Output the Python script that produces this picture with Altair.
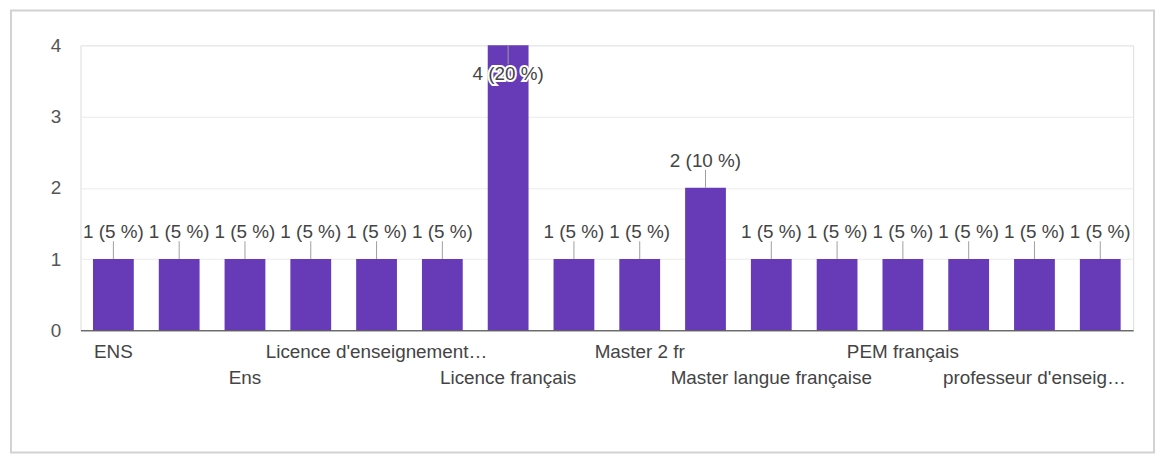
import json
import altair as alt
import pandas as pd

# ---- data ----
counts = [1, 1, 1, 1, 1, 1, 4, 1, 1, 2, 1, 1, 1, 1, 1, 1]
axis_labels = ["ENS", "", "Ens", "", "Licence d'enseignement…", "",
               "Licence français", "", "Master 2 fr", "",
               "Master langue française", "", "PEM français", "",
               "professeur d'enseig…", ""]
label_rows = [1, 0, 2, 0, 1, 0, 2, 0, 1, 0, 2, 0, 1, 0, 2, 0]
y_grid_values = [0, 0.5, 1, 1.5, 2, 2.5, 3, 3.5, 4]
y_max = 4

total = sum(counts)
df = pd.DataFrame({
    "idx": list(range(len(counts))),
    "count": counts,
    "label": [f"{c} ({round(100 * c / total)} %)" for c in counts],
})

lines = []
for lab, row in zip(axis_labels, label_rows):
    if row == 1:
        lines.append([lab])
    elif row == 2:
        lines.append(["", lab])
    else:
        lines.append([""])
label_expr = json.dumps(lines, ensure_ascii=False) + "[datum.value]"

W, H = 1060, 287
FONT = "Liberation Sans"
FS = 19
TXT = "#444444"
PURPLE = "#673ab7"

x_enc = alt.X("idx:O", sort="ascending",
              scale=alt.Scale(paddingInner=0.38, paddingOuter=0.19),
              axis=alt.Axis(title=None, labelExpr=label_expr, labelAngle=0,
                            ticks=False, grid=False, domainColor="#333333",
                            domainWidth=1, labelFont=FONT, labelFontSize=FS,
                            labelColor=TXT, labelPadding=12, labelLineHeight=27,
                            labelBaseline="top", labelOverlap=False,
                            labelLimit=1000,
                            labelBound=False, labelFlush=False, zindex=1))
y_scale = alt.Scale(domain=[0, y_max], nice=False)
y_enc = alt.Y("count:Q", scale=y_scale,
              axis=alt.Axis(title=None, values=y_grid_values,
                            labelExpr="datum.value % 1 == 0 ? format(datum.value, 'd') : ''",
                            ticks=False, domain=False, gridColor="#ebebeb",
                            labelFont=FONT, labelFontSize=FS, labelColor="#555555",
                            labelPadding=20))

frame_df = pd.DataFrame({"k": [0]})
frame = alt.Chart(frame_df).mark_rect(
    fillOpacity=0, stroke="#d2d2d2", strokeWidth=2
).encode(x=alt.value(-70), x2=alt.value(W + 21),
         y=alt.value(-35), y2=alt.value(H + 123))

bars = alt.Chart(df).mark_bar(color=PURPLE).encode(x=x_enc, y=y_enc)

base = alt.Chart(df).transform_joinaggregate(
    mx="max(count)"
).transform_calculate(
    top="datum.count >= datum.mx ? 1 : 0",
    tip="datum.count >= datum.mx ? datum.count - 0.265 : datum.count + 0.25",
)

leaders = base.mark_rule(color="#9e9e9e", strokeWidth=1).encode(
    x=alt.X("idx:O", sort="ascending"),
    y=alt.Y("count:Q", scale=y_scale),
    y2="tip:Q",
)

def label_layer(sel, dy, halo):
    kw = dict(font=FONT, fontSize=FS, baseline="middle", align="center", dy=dy)
    if halo:
        kw.update(fill="white", stroke="white", strokeWidth=4)
    else:
        kw.update(color=TXT)
    return base.transform_filter(sel).mark_text(**kw).encode(
        x=alt.X("idx:O", sort="ascending"),
        y=alt.Y("count:Q", scale=y_scale),
        text="label:N",
    )

labels = [
    label_layer("datum.top == 0", -27, True),
    label_layer("datum.top == 1", 29, True),
    label_layer("datum.top == 0", -27, False),
    label_layer("datum.top == 1", 29, False),
]

chart = alt.layer(frame, bars, leaders, *labels).properties(
    width=W, height=H,
    padding={"left": 2, "top": 0, "right": 0, "bottom": 0},
).configure_view(stroke="#ebebeb").configure(background="white")

chart.save("out.html", embed_options={"renderer": "svg", "actions": False})
